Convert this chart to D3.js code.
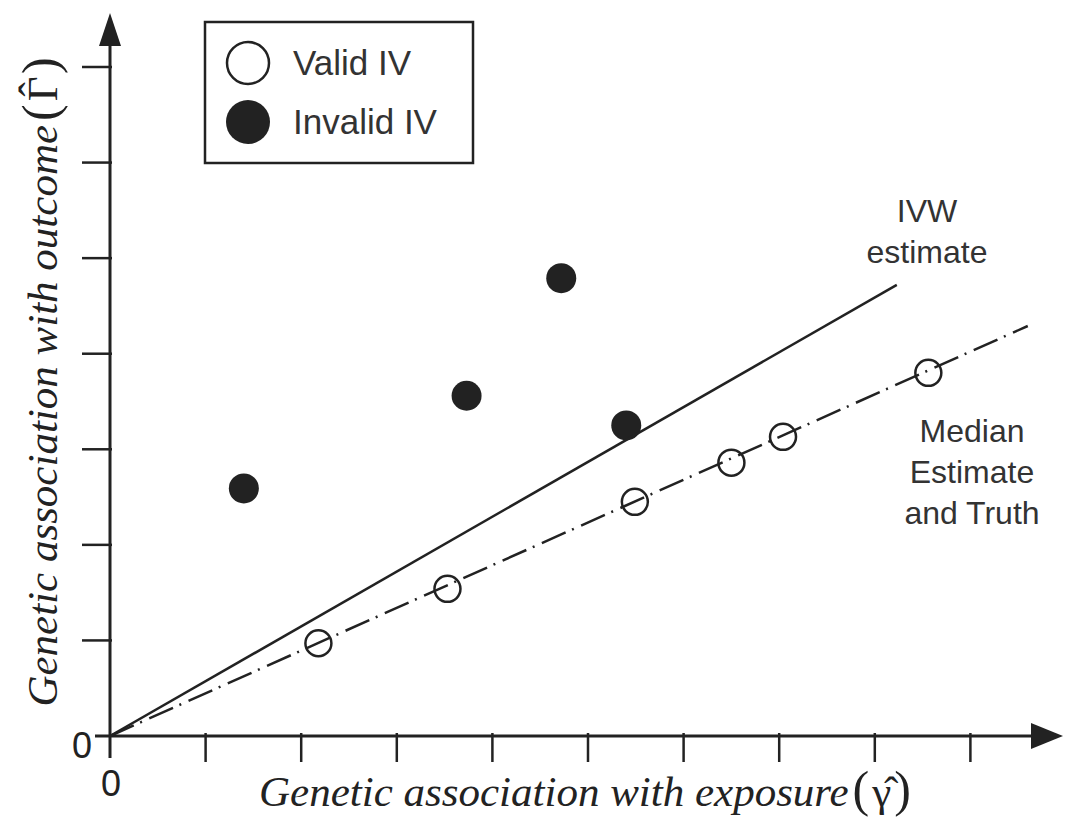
<!DOCTYPE html>
<html>
<head>
<meta charset="utf-8">
<script src="https://cdn.jsdelivr.net/npm/d3@7"></script>
<style>
  html, body { margin: 0; padding: 0; background: #ffffff; }
  #main-chart-container { width: 1065px; height: 820px; }
</style>
</head>
<body>
<div id="main-chart-container"></div>
<script>
// tick positions (unit steps on both axes, no labels except 0)
const xTicks = [1, 2, 3, 4, 5, 6, 7, 8, 9]
const yTicks = [1, 2, 3, 4, 5, 6, 7]

// valid instruments (open circles)
const validX = [2.18, 3.53, 5.49, 6.5, 7.04, 8.56]
const validY = [0.97, 1.54, 2.45, 2.86, 3.13, 3.8]

// invalid instruments (filled circles)
const invalidX = [1.4, 3.73, 4.72, 5.4]
const invalidY = [2.59, 3.56, 4.79, 3.25]

// fitted lines: start and end points
const ivwLine = [[0, 0], [8.23, 4.72]]
const medianLine = [[0, 0], [9.6, 4.29]]

const legendLabels = ['Valid IV', 'Invalid IV']

const width = 1065
const height = 820
const ink = '#222222'
const sans = "'Liberation Sans', Arial, Helvetica, sans-serif"
const serif = "'Liberation Serif', 'Times New Roman', serif"
const titleSize = 43

const svg = d3
  .select('#main-chart-container')
  .append('svg')
  .attr('width', width)
  .attr('height', height)

const xScale = d3.scaleLinear().domain([0, 10]).range([110, 1066])
const yScale = d3.scaleLinear().domain([0, 7]).range([736, 67])

// ticks
svg
  .append('g')
  .selectAll('line')
  .data(xTicks)
  .join('line')
  .attr('x1', d => xScale(d))
  .attr('x2', d => xScale(d))
  .attr('y1', yScale(0) - 3)
  .attr('y2', yScale(0) + 26)
  .attr('stroke', ink)
  .attr('stroke-width', 2.5)

svg
  .append('g')
  .selectAll('line')
  .data(yTicks)
  .join('line')
  .attr('x1', xScale(0) - 28)
  .attr('x2', xScale(0) + 2)
  .attr('y1', d => yScale(d))
  .attr('y2', d => yScale(d))
  .attr('stroke', ink)
  .attr('stroke-width', 2.5)

// axes lines, a bit past the origin
svg
  .append('line')
  .attr('x1', xScale(0) - 15)
  .attr('x2', 1040)
  .attr('y1', yScale(0))
  .attr('y2', yScale(0))
  .attr('stroke', ink)
  .attr('stroke-width', 3)

svg
  .append('line')
  .attr('x1', xScale(0))
  .attr('x2', xScale(0))
  .attr('y1', yScale(0) + 22)
  .attr('y2', 40)
  .attr('stroke', ink)
  .attr('stroke-width', 3)

// arrow heads
svg
  .append('path')
  .attr('d', `M${xScale(0)},13 L${xScale(0) - 11},46 L${xScale(0) + 11},46 Z`)
  .attr('fill', ink)

svg
  .append('path')
  .attr('d', `M1063,${yScale(0)} L1031,${yScale(0) - 13} L1031,${yScale(0) + 13} Z`)
  .attr('fill', ink)

// zero labels
svg
  .append('text')
  .attr('x', 92)
  .attr('y', 758)
  .attr('text-anchor', 'end')
  .attr('font-family', sans)
  .attr('font-size', 36)
  .attr('fill', ink)
  .text('0')

svg
  .append('text')
  .attr('x', xScale(0) + 1)
  .attr('y', 796)
  .attr('text-anchor', 'middle')
  .attr('font-family', sans)
  .attr('font-size', 36)
  .attr('fill', ink)
  .text('0')

// axis titles: italic words, upright symbol with a hat, tall parens
const xTitle = svg
  .append('text')
  .attr('x', 585)
  .attr('y', 806)
  .attr('text-anchor', 'middle')
  .attr('font-family', serif)
  .attr('font-size', titleSize)
  .attr('fill', ink)

xTitle
  .append('tspan')
  .attr('font-style', 'italic')
  .text('Genetic association with exposure')
xTitle.append('tspan').attr('font-size', 50).attr('dx', 4).text('(')
xTitle.append('tspan').attr('dx', 3).text('\u03B3\u0302')
xTitle.append('tspan').attr('font-size', 50).attr('dx', 3).text(')')

const yTitle = svg
  .append('text')
  .attr('transform', 'translate(57, 382) rotate(-90)')
  .attr('text-anchor', 'middle')
  .attr('font-family', serif)
  .attr('font-size', titleSize)
  .attr('fill', ink)

yTitle
  .append('tspan')
  .attr('font-style', 'italic')
  .text('Genetic association with outcome')
yTitle.append('tspan').attr('font-size', 50).attr('dx', 4).text('(')
yTitle.append('tspan').attr('dx', 3).text('\u0393')
yTitle
  .append('tspan')
  .attr('dx', -20)
  .attr('dy', -9)
  .text('\u02C6')
yTitle
  .append('tspan')
  .attr('font-size', 50)
  .attr('dx', 8)
  .attr('dy', 9)
  .text(')')

// points
svg
  .append('g')
  .selectAll('circle')
  .data(invalidX.map((x, i) => ({ x, y: invalidY[i] })))
  .join('circle')
  .attr('cx', d => xScale(d.x))
  .attr('cy', d => yScale(d.y))
  .attr('r', 15)
  .attr('fill', ink)

svg
  .append('g')
  .selectAll('circle')
  .data(validX.map((x, i) => ({ x, y: validY[i] })))
  .join('circle')
  .attr('cx', d => xScale(d.x))
  .attr('cy', d => yScale(d.y))
  .attr('r', 13)
  .attr('fill', '#ffffff')
  .attr('stroke', ink)
  .attr('stroke-width', 2.5)

// lines drawn over the open circles
const line = d3
  .line()
  .x(d => xScale(d[0]))
  .y(d => yScale(d[1]))

svg
  .append('path')
  .datum(ivwLine)
  .attr('d', line)
  .attr('fill', 'none')
  .attr('stroke', ink)
  .attr('stroke-width', 2.5)

svg
  .append('path')
  .datum(medianLine)
  .attr('d', line)
  .attr('fill', 'none')
  .attr('stroke', ink)
  .attr('stroke-width', 2.5)
  .attr('stroke-dasharray', '26 7 2 8')

// line annotations
const annotate = (lines, cx, y0, step) => {
  svg
    .append('g')
    .selectAll('text')
    .data(lines)
    .join('text')
    .attr('x', cx)
    .attr('y', (d, i) => y0 + i * step)
    .attr('text-anchor', 'middle')
    .attr('font-family', sans)
    .attr('font-size', 32)
    .attr('fill', '#333333')
    .text(d => d)
}

annotate(['IVW', 'estimate'], 927, 222, 41)
annotate(['Median', 'Estimate', 'and Truth'], 972, 442, 41)

// legend
const legend = svg.append('g')

legend
  .append('rect')
  .attr('x', 205)
  .attr('y', 22)
  .attr('width', 268)
  .attr('height', 141)
  .attr('fill', '#ffffff')
  .attr('stroke', ink)
  .attr('stroke-width', 2.5)

legendLabels.forEach((label, i) => {
  const cy = 63 + i * 59
  legend
    .append('circle')
    .attr('cx', 248)
    .attr('cy', cy)
    .attr('r', i === 0 ? 21 : 22)
    .attr('fill', i === 0 ? '#ffffff' : ink)
    .attr('stroke', ink)
    .attr('stroke-width', i === 0 ? 2.5 : 0)

  legend
    .append('text')
    .attr('x', 293)
    .attr('y', cy + 12)
    .attr('font-family', sans)
    .attr('font-size', 35)
    .attr('fill', '#333333')
    .text(label)
})
</script>
</body>
</html>
